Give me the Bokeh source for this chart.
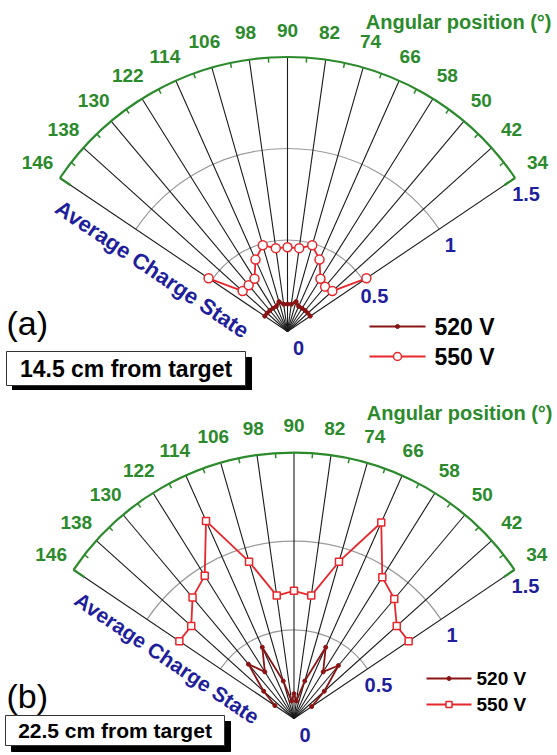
import numpy as np
from bokeh.plotting import figure
from bokeh.layouts import column
from bokeh.models import Range1d
from bokeh.core.properties import value
from bokeh.embed import file_html
from bokeh.resources import INLINE

# ---------------- data ----------------
angles_deg = [146, 138, 130, 122, 114, 106, 98, 90, 82, 74, 66, 58, 50, 42, 34]
angle_labels = [str(a) for a in angles_deg]
radial_ticks = [0, 0.5, 1, 1.5]
radial_tick_labels = ["0", "0.5", "1", "1.5"]
series_labels = ["520 V", "550 V"]

a_520 = [0.15, 0.15, 0.15, 0.15, 0.15, 0.17, 0.15, 0.15, 0.15, 0.17, 0.15, 0.15, 0.15, 0.15, 0.15]
a_550 = [0.52, 0.33, 0.33, 0.34, 0.43, 0.49, 0.46, 0.46, 0.46, 0.49, 0.43, 0.34, 0.32, 0.33, 0.52]
b_520 = [0.13, 0.23, 0.40, 0.31, 0.44, 0.22, 0.10, 0.14, 0.10, 0.22, 0.44, 0.31, 0.39, 0.23, 0.12]
b_550 = [0.78, 0.78, 0.89, 0.95, 1.22, 0.92, 0.70, 0.72, 0.70, 0.92, 1.21, 0.94, 0.88, 0.78, 0.78]

panel_tags = ["(a)", "(b)"]
distance_labels = ["14.5 cm from target", "22.5 cm from target"]
angle_title = "Angular position (°)"
radial_title = "Average Charge State"

# ---------------- style ----------------
GREEN = "#2b8a2b"
BLUE = "#1f1f9c"
RED = "#e8262b"
DARKRED = "#8a1414"
GRAY = "#9a9a9a"
FONT = value("Liberation Sans")
RMAX = 1.5


def polar(r, deg):
    t = np.radians(np.asarray(deg, dtype=float))
    r = np.asarray(r, dtype=float)
    return r * np.cos(t), r * np.sin(t)


def make_panel(W, H, cx, cy, s, v520, v550, mk550, tag, dist, lay):
    X = lambda px: (px - cx) / s
    Y = lambda py: (cy - py) / s
    p = figure(width=W, height=H, x_range=Range1d(-cx / s, (W - cx) / s),
               y_range=Range1d(-(H - cy) / s, cy / s),
               output_backend="svg", toolbar_location=None,
               x_axis_type=None, y_axis_type=None, min_border=0,
               outline_line_color=None, background_fill_color="white",
               border_fill_color="white")
    p.grid.visible = False

    amin, amax = np.radians(min(angles_deg)), np.radians(max(angles_deg))
    # gray grid arcs
    p.arc(x=0, y=0, radius=[0.5, 1.0], start_angle=amin, end_angle=amax,
          line_color=GRAY, line_width=1.2)
    # radial lines
    x1, y1 = polar([RMAX] * len(angles_deg), angles_deg)
    p.segment(x0=0, y0=0, x1=x1, y1=y1, line_color="#1a1a1a", line_width=1.1)
    # outer green arc + ends + minor ticks
    p.arc(x=0, y=0, radius=RMAX, start_angle=amin, end_angle=amax,
          line_color=GREEN, line_width=2.2)
    ends = [angles_deg[0], angles_deg[-1]]
    ex0, ey0 = polar([RMAX] * 2, ends)
    ex1, ey1 = polar([RMAX - 13 / s] * 2, ends)
    p.segment(x0=ex0, y0=ey0, x1=ex1, y1=ey1, line_color=GREEN, line_width=2.2)
    minor = [(a + b) / 2 for a, b in zip(angles_deg[:-1], angles_deg[1:])]
    mx0, my0 = polar([RMAX] * len(minor), minor)
    mx1, my1 = polar([RMAX - 5 / s] * len(minor), minor)
    p.segment(x0=mx0, y0=my0, x1=mx1, y1=my1, line_color=GREEN, line_width=1.5)

    # angle labels
    lx, ly = polar([RMAX + 27 / s] * len(angles_deg), angles_deg)
    p.text(x=lx, y=ly, text=angle_labels, text_font=FONT, text_font_style="bold",
           text_font_size="19px", text_color=GREEN, text_align="center",
           text_baseline="middle")
    p.text(x=[X(lay["title_x"])], y=[Y(lay["title_y"])], text=[angle_title], text_font=FONT,
           text_font_style="bold", text_font_size="20px", text_color=GREEN,
           text_align="right", text_baseline="middle")

    # radial labels along the 34 deg line
    rx, ry = polar(radial_ticks, [angles_deg[-1]] * len(radial_ticks))
    p.text(x=rx, y=ry, text=radial_tick_labels, text_font=FONT, text_font_style="bold",
           text_font_size="20px", text_color=BLUE, text_align="center",
           text_baseline="middle", x_offset=11, y_offset=16)

    # data
    x5, y5 = polar(v520, angles_deg)
    p.line(x5, y5, line_color=DARKRED, line_width=lay["w520"])
    p.scatter(x5, y5, marker="circle", size=4, fill_color=DARKRED, line_color=DARKRED)
    x6, y6 = polar(v550, angles_deg)
    p.line(x6, y6, line_color=RED, line_width=1.8)
    p.scatter(x6, y6, marker=mk550, size=lay["msize"], fill_color="white",
              line_color=RED, line_width=1.5)

    # panel tag
    p.text(x=[X(6)], y=[Y(lay["tag_y"])], text=[tag], text_font=FONT,
           text_font_size="34px", text_color="black", text_align="left",
           text_baseline="middle")
    # distance box with shadow
    bx0, by0, bx1, by1 = lay["box"]
    p.quad(left=[X(bx0 + 6)], right=[X(bx1 + 6)], top=[Y(by0 + 6)], bottom=[Y(by1 + 6)],
           fill_color="black", line_color="black")
    p.quad(left=[X(bx0)], right=[X(bx1)], top=[Y(by0)], bottom=[Y(by1)],
           fill_color="white", line_color="#333333", line_width=1)
    p.text(x=[X((bx0 + bx1) / 2)], y=[Y((by0 + by1) / 2)], text=[dist], text_font=FONT,
           text_font_style="bold", text_font_size=lay["box_fs"], text_color="black",
           text_align="center", text_baseline="middle")

    # radial title along the 146 deg line (below it)
    t = np.radians(angles_deg[0])
    along, perp = lay["rt_along"] / s, lay["rt_perp"] / s
    nx, ny = -abs(np.sin(t)), -abs(np.cos(t))
    tx = along * np.cos(t) + perp * nx
    ty = along * np.sin(t) + perp * ny
    p.text(x=[tx], y=[ty], text=[radial_title], angle=np.radians(angles_deg[0] - 180),
           text_font=FONT, text_font_style="bold", text_font_size=lay["rt_fs"],
           text_color=BLUE, text_align="center", text_baseline="middle")

    # legend
    l0, l1, tx0 = lay["leg_x"]
    ys = lay["leg_y"]
    p.segment(x0=[X(l0)] * 2, x1=[X(l1)] * 2, y0=[Y(v) for v in ys], y1=[Y(v) for v in ys],
              line_color=[DARKRED, RED], line_width=2)
    p.scatter([X((l0 + l1) / 2)], [Y(ys[0])], marker="circle", size=4,
              fill_color=DARKRED, line_color=DARKRED)
    p.scatter([X((l0 + l1) / 2)], [Y(ys[1])], marker=mk550, size=lay["msize"] - 1,
              fill_color="white", line_color=RED, line_width=1.5)
    p.text(x=[X(tx0)] * 2, y=[Y(v) for v in ys], text=series_labels, text_font=FONT,
           text_font_style="bold", text_font_size=lay["leg_fs"], text_color="black",
           text_align="left", text_baseline="middle")
    return p


pa = make_panel(557, 390, 287, 331, 183.0, a_520, a_550, "circle", panel_tags[0],
                distance_labels[0],
                dict(title_x=551, title_y=21, tag_y=322, box=(6, 351, 245, 385),
                     box_fs="23px", w520=3, msize=9, rt_along=147, rt_perp=24,
                     rt_fs="22px", leg_x=(369, 425, 434), leg_y=(326, 356),
                     leg_fs="23px"))
pb = make_panel(557, 365, 293.5, 328, 177.3, b_520, b_550, "square", panel_tags[1],
                distance_labels[1],
                dict(title_x=552, title_y=22, tag_y=305, box=(5, 325, 224, 355),
                     box_fs="21px", w520=1.8, msize=7, rt_along=139, rt_perp=21,
                     rt_fs="21px", leg_x=(426, 471, 476), leg_y=(288, 314),
                     leg_fs="19px"))

layout = column(pa, pb, spacing=0)
open("out.html", "w").write(file_html(layout, INLINE))
